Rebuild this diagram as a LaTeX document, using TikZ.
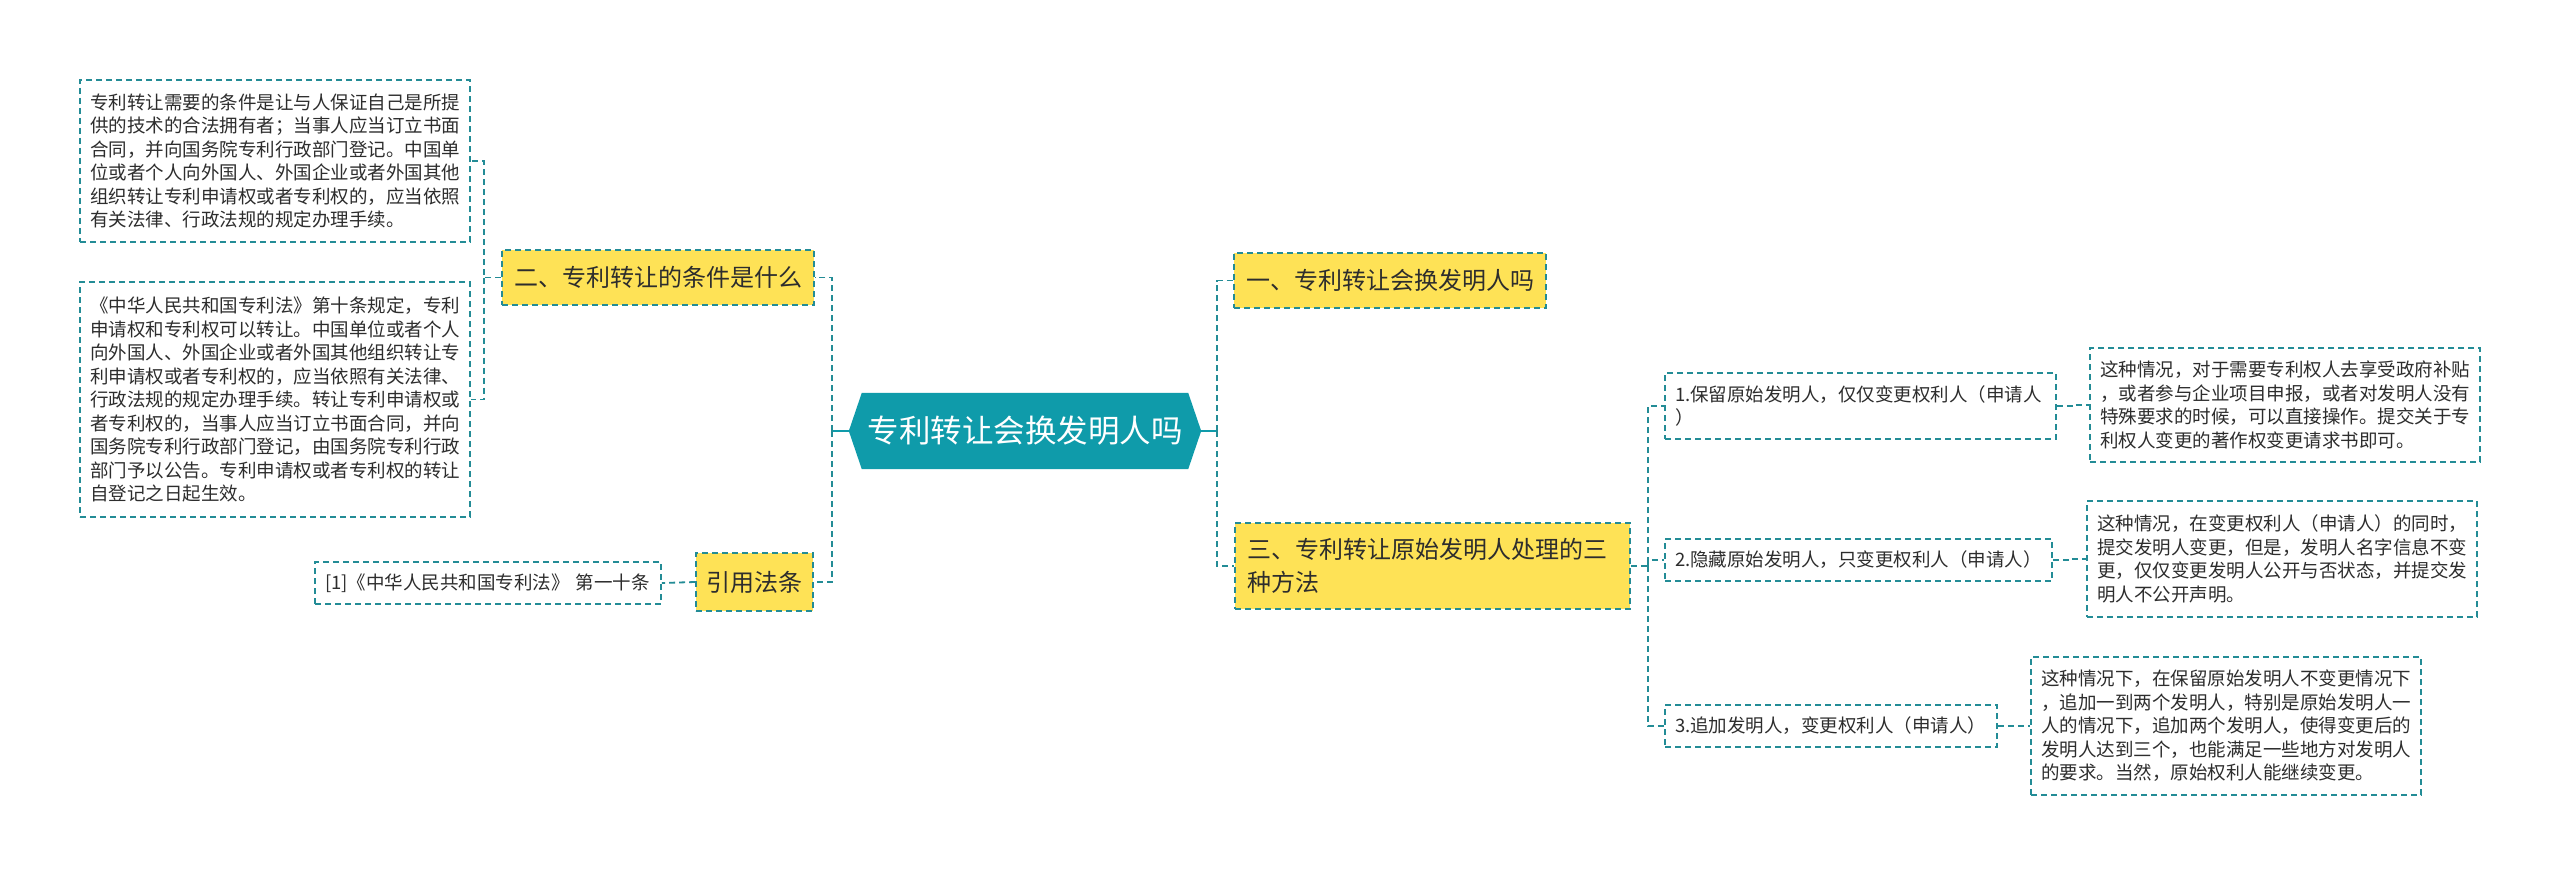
\documentclass[tikz,border=0pt]{standalone}
\usepackage{fontspec}
\setmainfont{Noto Sans CJK SC}
\usetikzlibrary{backgrounds}
\definecolor{tealline}{RGB}{35,140,150}
\definecolor{centerc}{RGB}{15,155,170}
\definecolor{yellowc}{RGB}{254,226,86}
\definecolor{textc}{RGB}{45,45,45}
\begin{document}
\begin{tikzpicture}[x=1pt,y=-1pt,
  conn/.style={draw=tealline, line width=1.8pt, dash pattern=on 6pt off 4pt},
  stub/.style={draw=centerc, line width=2.2pt},
  txtbox/.style={conn, fill=white, text=textc, align=left, inner xsep=10pt, inner ysep=0pt,
    font=\fontsize{18.5}{23.5}\selectfont},
  ybox/.style={conn, fill=yellowc, text=textc, inner xsep=12pt, inner ysep=0pt,
    font=\fontsize{24}{33}\selectfont},
  rootbox/.style={text=white, inner sep=0pt, font=\fontsize{31.5}{36}\selectfont}
]
\useasboundingbox (0,0) rectangle (2560,875);

% root
\node[rootbox, minimum width=326pt, minimum height=76pt] (root) at (1025,431) {专利转让会换发明人吗};
\begin{scope}[on background layer]
\fill[centerc] (root.north west) -- (root.north east) -- ([xshift=13pt]root.east) -- (root.south east) -- (root.south west) -- ([xshift=-13pt]root.west) -- cycle;
\end{scope}
\coordinate (rootW) at ([xshift=-13pt]root.west);
\coordinate (rootE) at ([xshift=13pt]root.east);

% left branch
\node[ybox, minimum width=310pt, minimum height=55pt] (n2) at (658,277.5) {二、专利转让的条件是什么};
\node[ybox, minimum width=117pt, minimum height=58pt, inner xsep=4pt] (ref) at (754.5,582) {引用法条};

\node[txtbox, minimum width=390pt, minimum height=162pt, text width=370pt] (A) at (275,161) {专利转让需要的条件是让与人保证自己是所提\\供的技术的合法拥有者；当事人应当订立书面\\合同，并向国务院专利行政部门登记。中国单\\位或者个人向外国人、外国企业或者外国其他\\组织转让专利申请权或者专利权的，应当依照\\有关法律、行政法规的规定办理手续。};
\node[txtbox, minimum width=390pt, minimum height=235pt, text width=370pt] (B) at (275,399.5) {《中华人民共和国专利法》第十条规定，专利\\申请权和专利权可以转让。中国单位或者个人\\向外国人、外国企业或者外国其他组织转让专\\利申请权或者专利权的，应当依照有关法律、\\行政法规的规定办理手续。转让专利申请权或\\者专利权的，当事人应当订立书面合同，并向\\国务院专利行政部门登记，由国务院专利行政\\部门予以公告。专利申请权或者专利权的转让\\自登记之日起生效。};
\node[txtbox, minimum width=346pt, minimum height=42pt, text width=326pt] (cite) at (488,583) {[1]《中华人民共和国专利法》 第一十条};

% right branch
\node[ybox, minimum width=310pt, minimum height=55pt] (n1) at (1390,280.5) {一、专利转让会换发明人吗};
\node[ybox, minimum width=395pt, minimum height=86pt, text width=371pt, align=left] (n3) at (1432.5,566) {三、专利转让原始发明人处理的三\\种方法};

\node[txtbox, minimum width=391pt, minimum height=66pt, text width=371pt] (s1) at (1860.5,406) {1.保留原始发明人，仅仅变更权利人（申请人\\）};
\node[txtbox, minimum width=387pt, minimum height=42pt, text width=367pt] (s2) at (1858.5,560) {2.隐藏原始发明人，只变更权利人（申请人）};
\node[txtbox, minimum width=332pt, minimum height=42pt, text width=312pt] (s3) at (1831,726) {3.追加发明人，变更权利人（申请人）};

\node[txtbox, minimum width=390pt, minimum height=114pt, text width=370pt] (r1) at (2285,405) {这种情况，对于需要专利权人去享受政府补贴\\，或者参与企业项目申报，或者对发明人没有\\特殊要求的时候，可以直接操作。提交关于专\\利权人变更的著作权变更请求书即可。};
\node[txtbox, minimum width=390pt, minimum height=116pt, text width=370pt] (r2) at (2282,559) {这种情况，在变更权利人（申请人）的同时，\\提交发明人变更，但是，发明人名字信息不变\\更，仅仅变更发明人公开与否状态，并提交发\\明人不公开声明。};
\node[txtbox, minimum width=390pt, minimum height=138pt, text width=370pt] (r3) at (2226,726) {这种情况下，在保留原始发明人不变更情况下\\，追加一到两个发明人，特别是原始发明人一\\人的情况下，追加两个发明人，使得变更后的\\发明人达到三个，也能满足一些地方对发明人\\的要求。当然，原始权利人能继续变更。};

% connectors
\draw[stub] (rootW) -- ++(-17pt,0pt) coordinate (jl);
\draw[conn] (jl) |- (n2.east);
\draw[conn] (jl) |- (ref.east);
\draw[conn] (n2.west) -- ++(-17pt,0pt) coordinate (j2) |- (A.east);
\draw[conn] (j2) |- (B.east);
\draw[conn] (ref.west) -- (cite.east);

\draw[stub] (rootE) -- ++(16pt,0pt) coordinate (jr);
\draw[conn] (jr) |- (n1.west);
\draw[conn] (jr) |- (n3.west);
\draw[conn] (n3.east) -- ++(17pt,0pt) coordinate (j3) |- (s1.west);
\draw[conn] (j3) |- (s2.west);
\draw[conn] (j3) |- (s3.west);
\draw[conn] (s1.east) -- ++(17pt,0pt) |- (r1.west);
\draw[conn] (s2.east) -- ++(17pt,0pt) |- (r2.west);
\draw[conn] (s3.east) -- ++(17pt,0pt) |- (r3.west);
\end{tikzpicture}
\end{document}
